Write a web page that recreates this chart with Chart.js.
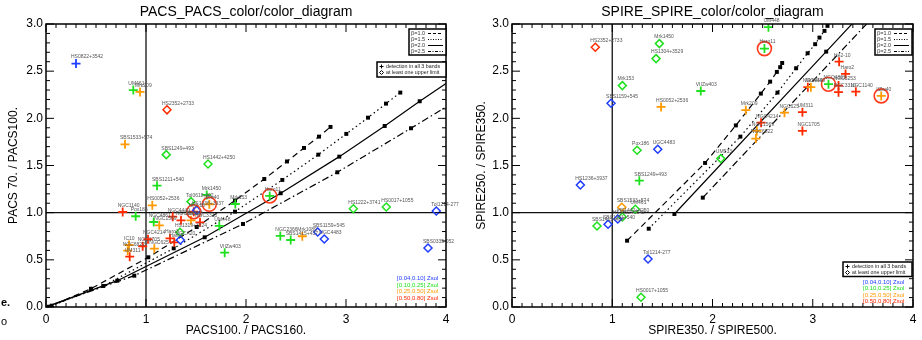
<!DOCTYPE html>
<html>
<head>
<meta charset="utf-8">
<script src="https://cdn.jsdelivr.net/npm/chart.js@4.4.1/dist/chart.umd.min.js"></script>
<style>
  body { margin: 0; background: #fff; }
  #wrap { position: relative; width: 922px; height: 340px; }
  canvas { position: absolute; top: 0; }
  #pacs { left: 0; }
  #spire { left: 461px; }
</style>
</head>
<body>
<div id="wrap">
  <canvas id="pacs" width="461" height="340"></canvas>
  <canvas id="spire" width="461" height="340"></canvas>
</div>
<script>
// metallicity bins
const binColors = ['#1f3cff', '#1ee01e', '#ff9a00', '#ff2a00'];
const binLabels = ['[0.04,0.10] Zsol', '[0.10,0.25] Zsol', '[0.25,0.50] Zsol', '[0.50,0.80] Zsol'];
const betaLabels = ['β=1.0', 'β=1.5', 'β=2.0', 'β=2.5'];

// PACS panel galaxies (lim = 1 -> at least one upper limit)
const pacsNames = ['HS0822+3542', 'UM461', 'Mrk209', 'HS2352+2733', 'SBS1533+574', 'SBS1249+493', 'HS1442+4250',
  'SBS1211+540', 'HS0052+2536', 'NGC1140', 'Pox186', 'Mrk1450', 'Tol0618-402', 'IIZw40', 'He2-10', 'HS1236+3937',
  'Mrk153', 'NGC4449', 'NGC4861', 'NGC1569', 'NGC5253', 'Mrk930', 'NGC3310', 'UM448', 'HS1319+3224', 'UGCA20',
  'Haro3', 'Haro2', 'NGC4214', 'NGC1705', 'NGC625', 'IC10', 'NGC6822', 'UM311', 'VIIZw403', 'HS1222+3741',
  'HS0017+1055', 'Tol1214-277', 'Haro11', 'NGC2366', 'SBS1415+437', 'Mrk1089', 'SBS1159+545', 'UGC4483', 'SBS0335-052'];
const pacsX = [0.30, 0.873, 0.94, 1.21, 0.79, 1.203, 1.62, 1.11, 1.063, 0.767, 0.897, 1.607, 1.45, 1.633, 1.477, 1.507,
  1.893, 1.267, 1.077, 1.133, 1.35, 1.45, 1.54, 1.733, 1.34, 1.343, 1.24, 1.283, 1.02, 0.967, 1.083, 0.83, 0.817, 0.837,
  1.787, 3.073, 3.403, 3.903, 2.237, 2.343, 2.447, 2.563, 2.717, 2.783, 3.82];
const pacsY = [2.58, 2.30, 2.28, 2.09, 1.725, 1.615, 1.516, 1.286, 1.078, 1.007, 0.962, 1.188, 1.117, 1.089, 1.01, 1.026,
  1.092, 0.958, 0.901, 0.866, 0.919, 0.919, 0.898, 0.859, 0.792, 0.71, 0.728, 0.686, 0.718, 0.644, 0.618, 0.657, 0.597, 0.533,
  0.576, 1.042, 1.06, 1.018, 1.177, 0.753, 0.71, 0.75, 0.795, 0.721, 0.626];
const pacsBin = [0, 1, 2, 3, 2, 1, 1, 1, 2, 3, 1, 1, 1, 2, 3, 0, 1, 3, 1, 2, 3, 2, 3, 1, 1, 0, 3, 3, 3, 3, 2, 2, 2, 3,
  1, 1, 1, 0, 1, 1, 1, 2, 0, 0, 0];
const pacsLim = [0, 0, 0, 1, 0, 1, 1, 0, 0, 0, 0, 0, 1, 0, 0, 1, 0, 0, 0, 0, 0, 0, 0, 0, 1, 1, 0, 0, 0, 0, 0, 0, 0, 0,
  0, 1, 1, 1, 0, 0, 0, 0, 1, 1, 1];
const pacsCircled = ['IIZw40', 'He2-10', 'Haro11'];

// PACS modified black-body tracks (dot = model temperature marker)
const pacsB10X = [0, 0.03, 0.45, 1.023, 1.507, 1.89, 2.183, 2.41, 2.58, 2.73, 2.845];
const pacsB10Y = [0, 0.003, 0.194, 0.527, 0.848, 1.129, 1.357, 1.543, 1.686, 1.806, 1.909];
const pacsB10Dot = [0, 1, 1, 1, 1, 1, 1, 1, 1, 1, 1];
const pacsB15X = [0, 0.057, 0.573, 1.277, 1.89, 2.363, 2.723, 3.003, 3.22, 3.40, 3.543];
const pacsB15Y = [0, 0.014, 0.223, 0.622, 1.011, 1.347, 1.615, 1.835, 2.007, 2.156, 2.273];
const pacsB15Dot = [0, 1, 1, 1, 1, 1, 1, 1, 1, 1, 1];
const pacsB20X = [0, 0.713, 1.587, 2.347, 2.933, 3.387, 3.737, 4.0];
const pacsB20Y = [0, 0.279, 0.739, 1.206, 1.594, 1.919, 2.181, 2.37];
const pacsB20Dot = [0, 1, 1, 1, 1, 1, 1, 0];
const pacsB25X = [0, 0.883, 1.97, 2.913, 3.65, 4.0];
const pacsB25Y = [0, 0.332, 0.88, 1.428, 1.895, 2.12];
const pacsB25Dot = [0, 1, 1, 1, 1, 0];

// SPIRE panel galaxies
const spireNames = ['HS2352+2733', 'Mrk1450', 'HS1304+3529', 'Mrk153', 'SBS1159+545', 'VIIZw403', 'HS0052+2536',
  'Pox186', 'UGC4483', 'UM533', 'HS1236+3937', 'SBS1249+493', 'SBS1533+574', 'UM461', 'HS1442+4250', 'HS0822+3542',
  'SBS1211+540', 'SBS1415+437', 'Tol1214-277', 'HS0017+1055', 'UM448', 'Haro11', 'He2-10', 'Haro2', 'NGC4861',
  'NGC5253', 'NGC3310', 'NGC1140', 'IIZw40', 'NGC4449', 'Mrk930', 'Mrk209', 'NGC625', 'UM311', 'NGC4214',
  'NGC1569', 'NGC6822', 'NGC1705'];
const spireX = [0.831, 1.47, 1.437, 1.101, 0.988, 1.883, 1.487, 1.248, 1.454, 2.083, 0.682, 1.27, 1.095, 1.23, 1.1,
  1.055, 0.958, 0.848, 1.357, 1.287, 2.558, 2.518, 3.263, 3.327, 3.157, 3.257, 3.257, 3.43, 3.683, 2.951, 2.981,
  2.332, 2.718, 2.897, 2.485, 2.442, 2.432, 2.897];
const spireY = [2.754, 2.792, 2.633, 2.347, 2.16, 2.29, 2.121, 1.662, 1.672, 1.573, 1.294, 1.339, 1.057, 1.036, 0.954,
  0.933, 0.877, 0.859, 0.509, 0.103, 2.966, 2.739, 2.601, 2.471, 2.362, 2.347, 2.277, 2.283, 2.238, 2.33, 2.33,
  2.086, 2.06, 2.065, 1.954, 1.866, 1.785, 1.866];
const spireBin = [3, 1, 1, 1, 0, 1, 2, 1, 0, 1, 0, 1, 2, 1, 1, 0, 0, 1, 0, 1, 1, 1, 3, 3, 1, 3, 3, 3, 2, 3, 2,
  2, 2, 3, 3, 2, 2, 3];
const spireLim = [1, 1, 1, 1, 1, 0, 0, 1, 1, 1, 1, 0, 1, 1, 1, 1, 1, 1, 1, 1, 0, 0, 0, 0, 0, 0, 0, 0, 0, 0, 0,
  0, 0, 0, 0, 0, 0, 0];
const spireCircled = ['Haro11', 'NGC4861', 'IIZw40'];

// SPIRE tracks
const spireB10X = [1.148, 1.926, 2.233, 2.482, 2.575, 2.642, 2.675, 2.695];
const spireB10Y = [0.703, 1.527, 1.925, 2.262, 2.389, 2.492, 2.542, 2.587];
const spireB10Dot = [1, 1, 1, 1, 1, 1, 1, 1];
const spireB15X = [1.364, 2.278, 2.648, 2.834, 2.949, 3.024, 3.067, 3.117, 3.147];
const spireB15Y = [0.830, 1.806, 2.273, 2.531, 2.690, 2.786, 2.856, 2.927, 2.98];
const spireB15Dot = [1, 1, 1, 1, 1, 1, 1, 1, 1];
const spireB20X = [1.62, 3.134, 3.435];
const spireB20Y = [0.986, 2.707, 3.05];
const spireB20Dot = [1, 1, 0];
const spireB25X = [1.903, 3.582];
const spireB25Y = [1.159, 3.05];
const spireB25Dot = [1, 0];

const FONT = "'Liberation Sans', Arial, Helvetica, sans-serif";
const dashes = [[6, 4], [1.5, 3], [], [7, 3, 1.5, 3]];
const legendDashes = [[3, 2], [1, 1.5], [], [3, 1.5, 1, 1.5]];

function galaxyDatasets(names, xs, ys, bins, lims, circled) {
  const sets = [];
  circled.forEach(n => {
    const i = names.indexOf(n);
    sets.push({ data: [{ x: xs[i], y: ys[i] }], pointStyle: 'circle', pointRadius: 7,
      borderColor: '#ff3a1a', borderWidth: 1.6, backgroundColor: 'rgba(255,255,255,0)' });
  });
  for (let b = 0; b < 4; b++) {
    [0, 1].forEach(lim => {
      const data = [];
      names.forEach((n, i) => { if (bins[i] === b && lims[i] === lim) data.push({ x: xs[i], y: ys[i] }); });
      sets.push({
        data,
        pointStyle: lim ? 'rectRot' : 'cross',
        pointRadius: lim ? 4 : 4.5,
        borderColor: binColors[b],
        borderWidth: lim ? 1.5 : 1.8,
        backgroundColor: 'rgba(255,255,255,0)'
      });
    });
  }
  return sets;
}

function trackDataset(xs, ys, dots, k) {
  return {
    type: 'line',
    data: xs.map((v, i) => ({ x: v, y: ys[i] })),
    showLine: true,
    borderColor: '#000',
    borderWidth: 1.2,
    borderDash: dashes[k],
    pointStyle: 'rect',
    pointRadius: dots.map(d => d ? 2.8 : 0),
    pointBackgroundColor: '#000',
    pointBorderWidth: 0,
    fill: false,
    tension: 0
  };
}

const panelPlugin = {
  id: 'panel',
  beforeDatasetsDraw(chart, args, opt) {
    const { ctx, chartArea: a, scales: { x, y } } = chart;
    ctx.save();
    ctx.strokeStyle = '#111';
    ctx.lineWidth = 1.3;
    const x1 = x.getPixelForValue(1), y1 = y.getPixelForValue(1);
    ctx.beginPath();
    ctx.moveTo(x1, a.top); ctx.lineTo(x1, a.bottom);
    ctx.moveTo(a.left, y1); ctx.lineTo(a.right, y1);
    ctx.stroke();
    ctx.restore();
  },
  afterDatasetsDraw(chart, args, opt) {
    const { ctx, chartArea: a, scales: { x, y } } = chart;
    ctx.save();
    // point labels
    ctx.font = `5px ${FONT}`;
    ctx.fillStyle = '#555';
    ctx.textAlign = 'left';
    ctx.textBaseline = 'middle';
    opt.names.forEach((n, i) => {
      ctx.fillText(n, x.getPixelForValue(opt.xs[i]) - 5, y.getPixelForValue(opt.ys[i]) - 6.5);
    });

    // frame + ticks on all sides
    ctx.strokeStyle = '#000';
    ctx.lineWidth = 1.5;
    ctx.strokeRect(a.left, a.top, a.right - a.left, a.bottom - a.top);
    ctx.lineWidth = 1;
    ctx.beginPath();
    for (let k = 0; k <= 40; k++) {
      const px = x.getPixelForValue(k / 10), len = k % 10 === 0 ? 8 : 4;
      ctx.moveTo(px, a.bottom); ctx.lineTo(px, a.bottom - len);
      ctx.moveTo(px, a.top); ctx.lineTo(px, a.top + len);
    }
    for (let k = 0; k <= 30; k++) {
      const py = y.getPixelForValue(k / 10), len = k % 5 === 0 ? 8 : 4;
      ctx.moveTo(a.left, py); ctx.lineTo(a.left + len, py);
      ctx.moveTo(a.right, py); ctx.lineTo(a.right - len, py);
    }
    ctx.stroke();

    // beta legend
    const bb = opt.betaBox;
    ctx.fillStyle = '#fff';
    ctx.fillRect(bb.x, bb.y, bb.w, bb.h);
    ctx.lineWidth = 1.5;
    ctx.strokeRect(bb.x, bb.y, bb.w, bb.h);
    ctx.font = `5.5px ${FONT}`;
    betaLabels.forEach((t, i) => {
      const ty = bb.y + 4.5 + i * 6;
      ctx.fillStyle = '#333';
      ctx.fillText(t, bb.x + 2, ty);
      ctx.setLineDash(legendDashes[i]);
      ctx.lineWidth = 1;
      ctx.beginPath();
      ctx.moveTo(bb.x + 19, ty); ctx.lineTo(bb.x + bb.w - 3, ty);
      ctx.stroke();
    });
    ctx.setLineDash([]);

    // detection legend
    const db = opt.detBox;
    ctx.fillStyle = '#fff';
    ctx.fillRect(db.x, db.y, db.w, db.h);
    ctx.lineWidth = 1.5;
    ctx.strokeRect(db.x, db.y, db.w, db.h);
    ctx.lineWidth = 1;
    const r1 = db.y + 4.5, r2 = db.y + 10.5;
    ctx.beginPath();
    ctx.moveTo(db.x + 2.5, r1); ctx.lineTo(db.x + 6.5, r1);
    ctx.moveTo(db.x + 4.5, r1 - 2); ctx.lineTo(db.x + 4.5, r1 + 2);
    ctx.moveTo(db.x + 4.5, r2 - 2); ctx.lineTo(db.x + 6.5, r2);
    ctx.lineTo(db.x + 4.5, r2 + 2); ctx.lineTo(db.x + 2.5, r2); ctx.closePath();
    ctx.stroke();
    ctx.fillStyle = '#222';
    ctx.font = `5.3px ${FONT}`;
    ctx.fillText('detection in all 3 bands', db.x + 9, r1);
    ctx.fillText('at least one upper limit', db.x + 9, r2);

    // metallicity legend
    const zl = opt.zLegend;
    ctx.font = `6px ${FONT}`;
    binLabels.forEach((t, i) => {
      ctx.fillStyle = binColors[i];
      ctx.fillText(t, zl.x, zl.y + i * 6.6);
    });
    ctx.restore();
  },
  afterDraw(chart, args, opt) {
    const { ctx, chartArea: a } = chart;
    const cx = (a.left + a.right) / 2;
    ctx.save();
    ctx.fillStyle = '#000';
    ctx.textAlign = 'center';
    ctx.textBaseline = 'middle';
    ctx.font = `14px ${FONT}`;
    ctx.fillText(opt.title, cx, 12);
    ctx.font = `12px ${FONT}`;
    ctx.fillText(opt.xTitle, cx, 331);
    ctx.translate(opt.yTitleX, (a.top + a.bottom) / 2);
    ctx.rotate(-Math.PI / 2);
    ctx.fillText(opt.yTitle, 0, 0);
    ctx.restore();
    if (opt.stray) {
      ctx.save();
      ctx.fillStyle = '#000';
      ctx.textAlign = 'left';
      ctx.textBaseline = 'middle';
      ctx.font = `bold 11px ${FONT}`;
      ctx.fillText('e.', 1, 303);
      ctx.font = `11px ${FONT}`;
      ctx.fillText('o', 1, 322);
      ctx.restore();
    }
  }
};

function buildChart(id, datasets, panel) {
  return new Chart(document.getElementById(id), {
    type: 'scatter',
    data: { datasets },
    options: {
      responsive: false,
      animation: false,
      layout: { padding: { top: 24, right: panel.padRight, left: 0, bottom: 0 } },
      plugins: { legend: { display: false }, tooltip: { enabled: false }, panel },
      scales: {
        x: {
          type: 'linear', min: 0, max: 4,
          grid: { display: false, drawTicks: false },
          border: { display: false },
          ticks: { stepSize: 1, padding: 5, color: '#000', maxRotation: 0, font: { family: FONT, size: 12 } },
          afterFit: s => { s.height = 33; }
        },
        y: {
          type: 'linear', min: 0, max: 3,
          grid: { display: false, drawTicks: false },
          border: { display: false },
          ticks: { stepSize: 0.5, padding: 3, color: '#000', font: { family: FONT, size: 12 },
            callback: v => v.toFixed(1) },
          afterFit: s => { s.width = panel.axisW; }
        }
      }
    },
    plugins: [panelPlugin]
  });
}

const pacsSets = galaxyDatasets(pacsNames, pacsX, pacsY, pacsBin, pacsLim, pacsCircled).concat([
  trackDataset(pacsB10X, pacsB10Y, pacsB10Dot, 0),
  trackDataset(pacsB15X, pacsB15Y, pacsB15Dot, 1),
  trackDataset(pacsB20X, pacsB20Y, pacsB20Dot, 2),
  trackDataset(pacsB25X, pacsB25Y, pacsB25Dot, 3)
]);

const spireSets = galaxyDatasets(spireNames, spireX, spireY, spireBin, spireLim, spireCircled).concat([
  trackDataset(spireB10X, spireB10Y, spireB10Dot, 0),
  trackDataset(spireB15X, spireB15Y, spireB15Dot, 1),
  trackDataset(spireB20X, spireB20Y, spireB20Dot, 2),
  trackDataset(spireB25X, spireB25Y, spireB25Dot, 3)
]);

buildChart('pacs', pacsSets, {
  axisW: 46, padRight: 15,
  title: 'PACS_PACS_color/color_diagram',
  xTitle: 'PACS100. / PACS160.',
  yTitle: 'PACS 70. / PACS100.',
  yTitleX: 14,
  names: pacsNames, xs: pacsX, ys: pacsY,
  betaBox: { x: 409, y: 29, w: 37, h: 26 },
  detBox: { x: 377, y: 62, w: 69, h: 15 },
  zLegend: { x: 397, y: 278.5 },
  stray: true
});

buildChart('spire', spireSets, {
  axisW: 51, padRight: 9,
  title: 'SPIRE_SPIRE_color/color_diagram',
  xTitle: 'SPIRE350. / SPIRE500.',
  yTitle: 'SPIRE250. / SPIRE350.',
  yTitleX: 20.5,
  names: spireNames, xs: spireX, ys: spireY,
  betaBox: { x: 414, y: 29, w: 37, h: 26 },
  detBox: { x: 382, y: 262, w: 69, h: 14.5 },
  zLegend: { x: 402, y: 282 },
  stray: false
});
</script>
</body>
</html>
